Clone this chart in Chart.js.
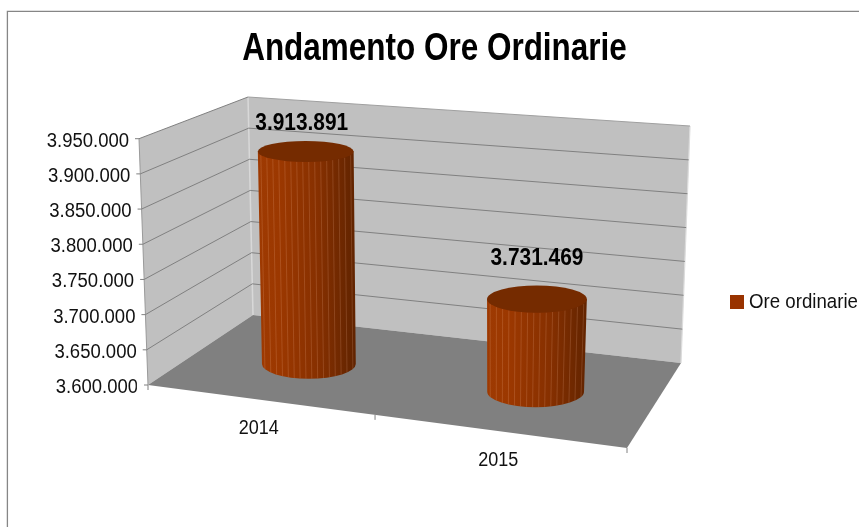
<!DOCTYPE html>
<html>
<head>
<meta charset="utf-8">
<style>html,body{margin:0;padding:0;background:#fff}canvas{display:block}</style>
<script src="https://cdn.jsdelivr.net/npm/chart.js@4"></script>
</head>
<body>
<canvas id="c" width="859" height="527"></canvas>
<script>
const categories = ['2014', '2015'];
const oreOrdinarie = [3913891, 3731469];
const tickLabels = ['3.600.000','3.650.000','3.700.000','3.750.000','3.800.000','3.850.000','3.900.000','3.950.000'];
const seriesName = 'Ore ordinarie';
const titleText = 'Andamento Ore Ordinarie';
const axisMin = 3600000, axisMax = 3950000, axisStep = 50000;

// 3D box corners on the page: F = front, B = back, L/R = left/right
const box = {
  floor: {FL:[148,385], FR:[627,448], BL:[253,315], BR:[681,363]},
  top:   {FL:[139,138.7], FR:[632,183], BL:[248,97], BR:[690,126]}
};
const barDepth = 0.5, barShift = -5;
const labelNudge = [[-4,-28.5],[0,-40.5]];
const frontTicks = [0,.474,1];
// horizontal squeeze of each text group
const squeeze = {title:.828, y:.925, x:.9, legend:.91, label:.87};

function lerp(a,b,t){return a+(b-a)*t;}
function face(f,u,d){
  const fx=lerp(f.FL[0],f.FR[0],u), fy=lerp(f.FL[1],f.FR[1],u);
  const bx=lerp(f.BL[0],f.BR[0],u), by=lerp(f.BL[1],f.BR[1],u);
  return [lerp(fx,bx,d),lerp(fy,by,d)];
}
function P(u,d,v){
  const a=face(box.floor,u,d), b=face(box.top,u,d);
  return [lerp(a[0],b[0],v),lerp(a[1],b[1],v)];
}
function poly(ctx,pts){
  ctx.beginPath();
  pts.forEach((p,i)=>i?ctx.lineTo(p[0],p[1]):ctx.moveTo(p[0],p[1]));
  ctx.closePath();
}
function seg(ctx,a,b,color,w){
  ctx.beginPath();ctx.moveTo(a[0],a[1]);ctx.lineTo(b[0],b[1]);
  ctx.strokeStyle=color;ctx.lineWidth=w||1;ctx.stroke();
}
function vOf(ys,px){return (ys.bottom-px)/ys.height;}
function uOf(xs,px){return (px-xs.left)/xs.width;}
function ryAt(y){return 7.3+0.021*y;}
function condense(obj,method,ctx,k,cx){
  const orig=obj[method];
  obj[method]=function(){
    ctx.save();ctx.translate(cx,0);ctx.scale(k,1);ctx.translate(-cx,0);
    orig.apply(this,arguments);
    ctx.restore();
  };
}

function drawCylinder(ctx){
  const chart=this.$chart, xs=chart.scales.x, ys=chart.scales.y;
  const u=uOf(xs,this.x), vt=vOf(ys,this.y), vb=Math.max(0,vOf(ys,this.base));
  const T=P(u,barDepth,vt), B=P(u,barDepth,vb);
  const cxT=T[0]+barShift, cyT=T[1], cxB=B[0]+barShift, cyB=B[1];
  const rxT=this.width/2+(u-.25)*4, rxB=this.width/2-1+(u-.25)*3;
  const ryT=ryAt(cyT), ryB=ryAt(cyB);
  ctx.save();
  ctx.beginPath();
  ctx.moveTo(cxT-rxT,cyT);
  ctx.lineTo(cxB-rxB,cyB);
  ctx.ellipse(cxB,cyB,rxB,ryB,0,Math.PI,0,true);
  ctx.lineTo(cxT+rxT,cyT);
  ctx.closePath();
  const g=ctx.createLinearGradient(cxT-rxT,0,cxT+rxT,0);
  g.addColorStop(0,'#9e3a02');g.addColorStop(.22,'#9c3800');
  g.addColorStop(.62,'#873000');g.addColorStop(1,'#622400');
  ctx.fillStyle=g;ctx.fill();
  ctx.clip();
  const n=16;
  for(let i=0;i<n;i++){
    const t=(i+.5)/n, k=2*t-1, s=Math.sqrt(1-k*k);
    seg(ctx,[cxT+k*rxT,cyT+ryT*s],[cxB+k*rxB,cyB+ryB*s],'rgba(255,200,165,.2)',.9);
  }
  ctx.restore();
  ctx.beginPath();
  ctx.ellipse(cxT,cyT,rxT,ryT,0,0,Math.PI*2);
  ctx.fillStyle='#752b00';ctx.fill();
}

const swatch=document.createElement('canvas');
swatch.width=15;swatch.height=14;
(function(){const s=swatch.getContext('2d');s.fillStyle='#993300';s.fillRect(0,0,15,14);})();

const legendPad = 6;
const box3d={
  id:'box3d',
  afterLayout(chart){
    const x=chart.scales.x;
    x.right=box.floor.FR[0];x.width=x.right-x.left;x.configure();
    const l=chart.legend, w=l.right-l.left, H=l.columnSizes[0].height;
    l.left=737/squeeze.legend-3-legendPad;l.right=l.left+w;
    const Y=302-(H-legendPad)/2;
    l.top=Y-legendPad;l.bottom=Y+H;
  },
  beforeDraw(chart){
    const ctx=chart.ctx;
    ctx.save();
    ctx.fillStyle='#fff';ctx.fillRect(0,0,chart.width,chart.height);
    ctx.strokeStyle='#868686';ctx.lineWidth=1.3;
    ctx.beginPath();ctx.moveTo(7.4,chart.height+2);ctx.lineTo(7.4,11.4);ctx.lineTo(chart.width+2,11.4);ctx.stroke();
    ctx.restore();
    const xs=chart.scales.x, ys=chart.scales.y;
    ys.getLabelItems().forEach(it=>{
      const t=it.options.translation;
      const p=P(0,0,vOf(ys,t[1]));
      t[0]=(p[0]-10)/squeeze.y;t[1]=p[1]+2.5;
    });
    xs.getLabelItems().forEach(it=>{
      const t=it.options.translation;
      const p=P(uOf(xs,t[0]),0,0);
      t[0]=(p[0]-9)/squeeze.x;t[1]=p[1]+28;
      it.options.textBaseline='middle';
      it.textOffset=0;
    });
    if(!chart.$squeezed){
      chart.$squeezed=true;
      condense(chart.titleBlock,'draw',ctx,squeeze.title,434.5);
      condense(chart.legend,'draw',ctx,squeeze.legend,0);
      condense(ys,'drawLabels',ctx,squeeze.y,0);
      condense(xs,'drawLabels',ctx,squeeze.x,0);
    }
  },
  beforeDatasetsDraw(chart){
    const ctx=chart.ctx, ys=chart.scales.y;
    ctx.save();
    ctx.lineCap='butt';
    // left wall, back wall, floor
    ctx.fillStyle='#c0c0c0';
    poly(ctx,[P(0,0,0),P(0,0,1),P(0,1,1),P(0,1,0)]);ctx.fill();
    poly(ctx,[P(0,1,0),P(0,1,1),P(1,1,1),P(1,1,0)]);ctx.fill();
    ctx.fillStyle='#808080';
    poly(ctx,[P(0,0,0),P(1,0,0),P(1,1,0),P(0,1,0)]);ctx.fill();
    // lighter wall corners
    seg(ctx,P(0,1,0),P(0,1,1),'#d8d8d8',1.5);
    seg(ctx,P(1,1,0),P(1,1,1),'#dcdcdc',1.2);
    seg(ctx,P(0,0,0),P(0,0,1),'#9a9a9a',1);
    // gridlines follow the y scale ticks
    ys.ticks.forEach(t=>{
      const v=vOf(ys,ys.getPixelForValue(t.value));
      const a=P(0,0,v), b=P(0,1,v), c=P(1,1,v);
      if(v>0){
        seg(ctx,a,b,'#808080',1);
        seg(ctx,b,c,v>=1?'#a0a0a0':'#808080',1);
      }
      seg(ctx,[a[0]-4,a[1]],a,'#808080',1);
    });
    // category tick marks on the front edge
    frontTicks.forEach(u=>{
      const p=P(u,0,0);
      seg(ctx,p,[p[0],p[1]+5],'#808080',1);
    });
    ctx.restore();
    chart.getDatasetMeta(0).data.forEach(el=>{el.$chart=chart;el.draw=drawCylinder;});
  },
  afterDatasetsDraw(chart){
    const ctx=chart.ctx, xs=chart.scales.x, ys=chart.scales.y;
    ctx.save();
    ctx.font='bold 24px "Liberation Sans", Arial, sans-serif';
    ctx.fillStyle='#000';ctx.textAlign='center';ctx.textBaseline='middle';
    ctx.scale(squeeze.label,1);
    chart.getDatasetMeta(0).data.forEach((el,i)=>{
      const p=P(uOf(xs,el.x),barDepth,vOf(ys,el.y));
      const txt=String(oreOrdinarie[i]).replace(/\B(?=(\d{3})+$)/g,'.');
      ctx.fillText(txt,(p[0]+barShift+labelNudge[i][0])/squeeze.label,p[1]+labelNudge[i][1]);
    });
    ctx.restore();
  }
};

new Chart(document.getElementById('c'),{
  type:'bar',
  data:{labels:categories,datasets:[{
    label:seriesName,data:oreOrdinarie,backgroundColor:'#993300',
    barPercentage:.4,categoryPercentage:1,clip:false
  }]},
  options:{
    responsive:false,animation:false,
    layout:{padding:{left:10,right:0,top:0,bottom:0}},
    plugins:{
      tooltip:{enabled:false},
      title:{display:true,text:titleText,color:'#000',
        font:{family:'"Liberation Sans",sans-serif',size:38,weight:'bold'},
        padding:{top:27,bottom:66.1}},
      legend:{display:true,position:'right',
        labels:{font:{family:'"Liberation Sans",sans-serif',size:20.5},color:'#111',padding:legendPad,
          boxWidth:6,boxHeight:14,usePointStyle:true,pointStyle:swatch}}
    },
    scales:{
      x:{grid:{display:false},border:{display:false},
        ticks:{color:'#111',font:{family:'"Liberation Sans",sans-serif',size:20},maxRotation:0},
        afterFit(s){s.height=142;}},
      y:{min:axisMin,max:axisMax,grid:{display:false},border:{display:false},
        ticks:{stepSize:axisStep,color:'#111',font:{family:'"Liberation Sans",sans-serif',size:20},
          callback:(v,i)=>tickLabels[i]},
        afterFit(s){s.width=138;}}
    }
  },
  plugins:[box3d]
});
</script>
</body>
</html>
